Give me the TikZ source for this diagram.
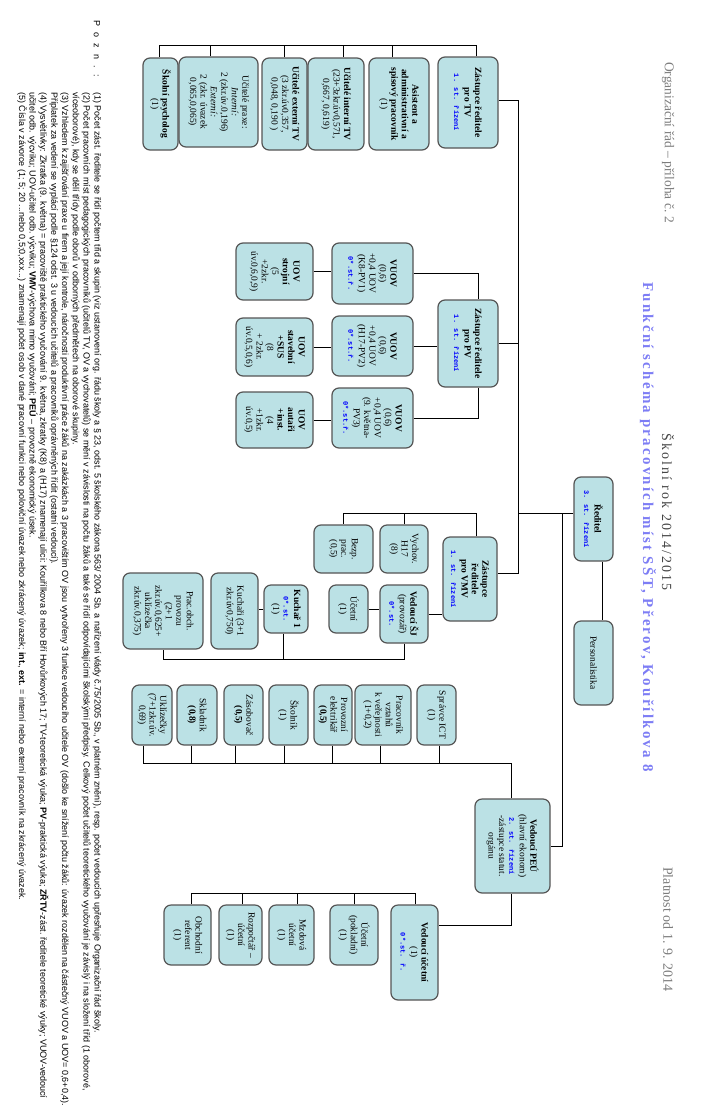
\documentclass[tikz,border=0pt]{standalone}
\usepackage{fontspec}
\setmainfont{Liberation Serif}
\newfontfamily\notefont{Liberation Sans}
\newfontfamily\poznfont[LetterSpace=70]{Liberation Sans}
\newfontfamily\stfont{Liberation Mono}
\newfontfamily\yearfont[LetterSpace=15]{Liberation Serif}
\newfontfamily\bluefont[LetterSpace=15]{Liberation Serif}
\usetikzlibrary{calc}
\definecolor{boxfill}{RGB}{187,225,229}
\definecolor{boxline}{RGB}{85,85,85}
\definecolor{stblue}{RGB}{0,0,255}
\definecolor{titleblue}{RGB}{125,125,245}
\definecolor{titlegray}{RGB}{125,125,125}
\definecolor{yeargray}{RGB}{70,70,70}
\newcommand{\st}[1]{{\stfont\bfseries\fontsize{7}{9}\selectfont\color{stblue}#1}}
\newcommand{\bx}[6]{\node[box, minimum height=#4bp, minimum width=#5bp] (#1) at (#2,#3) {#6};}
\begin{document}
\begin{tikzpicture}[x=1bp,y=-1bp,
  box/.style={draw=boxline, fill=boxfill, line width=1.2bp, rounded corners=7bp, rotate=-90,
    align=center, inner sep=1bp, font=\fontsize{9.5}{10.5}\selectfont},
  conn/.style={line width=1bp, draw=black},
  vtext/.style={rotate=-90, anchor=west, inner sep=0pt},
  note/.style={vtext, font=\notefont\fontsize{9}{10}\selectfont}]
\fill[white] (0,0) rectangle (724,1120);
\useasboundingbox (0,0) rectangle (724,1120);

% titles
\node[vtext, text=titlegray, font=\fontsize{13.5}{15}\selectfont] (t1) at (668,62) {Organizační řád – příloha č. 2};
\node[vtext, text=yeargray, font=\yearfont\fontsize{14}{16}\selectfont] (t2) at (668,433) {Školní rok 2014/2015};
\node[vtext, text=titleblue, font=\bluefont\bfseries\fontsize{15}{17}\selectfont] (t3) at (648,282) {Funkční schéma pracovních míst SŠT, Přerov, Kouřílkova 8};
\node[vtext, text=titlegray, font=\fontsize{14}{16}\selectfont] (t4) at (668,867) {Platnost od 1. 9. 2014};

% notes
\node[vtext, font=\poznfont\fontsize{9}{10}\selectfont] (pozn) at (97,20) {Pozn.:};
\node[note] (n1) at (97,92) {(1) Počet zást. ředitele se řídí počtem tříd a skupin (viz ustanovení org. řádu školy a § 23, odst. 5 školského zákona 563/ 2004 Sb. a nařízení vlády č.75/2005 Sb., v platném znění), resp. počet vedoucích upřesňuje Organizační řád školy.};
\node[note] (n2) at (86.3,92) {(2) Počet pracovních míst pedagogických pracovníků (učitelů TV, OV a vychovatelů) se mění v závislosti na počtu žáků a také se řídí odpovídajícími školskými předpisy. Celkový počet učitelů teoretického vyučování je závislý i na složení tříd (1 oborové,};
\node[note] (n3) at (75.6,92) {víceoborové), kdy se dělí třídy podle oborů v odborných předmětech na oborové skupiny.};
\node[note] (n4) at (64.9,92) {(3) Vzhledem k zajišťování praxe u firem a její kontrole, náročnosti produktivní práce žáků na zakázkách a 3 pracovištím OV jsou vytvořeny 3 funkce vedoucího učitele OV (došlo ke snížení počtu žáků: úvazek rozdělen na částečný VUOV a UOV= 0,6+0,4).};
\node[note] (n5) at (54.1,92) {Příplatek za vedení se vyplácí podle §124 odst. 3 u vedoucích učitelů a pracovníků oprávněných řídit (ostatní vedoucí).};
\node[note] (n6) at (43.4,92) {(4) Vysvětlivky: Zkratka (9. května) = pracoviště praktického vyučování 9. května, zkratky (K8) a (H17) znamenají ulici: Kouřílkova 8 nebo Bří Hovůrkových 17; TV-teoretická výuka; \textbf{PV}-praktická výuka; \textbf{ZŘTV}-zást. ředitele teoretické výuky; VUOV-vedoucí};
\node[note] (n7) at (32.7,92) {učitel odb. výcviku; UOV-učitel odb. výcviku; \textbf{VMV}-výchova mimo vyučování; \textbf{PEÚ} – provozně ekonomický úsek.};
\node[note] (n8) at (22,92) {(5) Čísla v závorce (1; 5; 20 ...nebo 0,5;0,xxx...) znamenají počet osob v dané pracovní funkci nebo poloviční úvazek nebo zkrácený úvazek; \textbf{int.}, \textbf{ext.} = interní nebo externí pracovník na zkrácený úvazek.};

% TV branch
\bx{tv}{468}{102.5}{60}{91}{\textbf{Zástupce ředitele}\\\textbf{pro TV}\\\st{1. st. řízení}}
\bx{asist}{399}{104}{60}{92}{\textbf{Asistent a}\\\textbf{administrativní a}\\\textbf{spisový pracovník}\\(1)}
\bx{int}{336}{104}{56}{92}{\textbf{Učitelé interní TV}\\(23+3zkr.úv0,571,\\0,667, 0,619)}
\bx{ext}{284.5}{104}{45}{92}{\textbf{Učitelé externí TV}\\(3 zkr.úv0,357,\\0,048, 0,190 )}
\bx{praxe}{218.5}{102}{79}{90}{Učitelé praxe:\\\textit{Interní:}\\2 (zkr.úv.0,196)\\\textit{Externí:}\\2 (zkr. úvazek\\0,065,0,065)}
\bx{psych}{160.5}{104}{35}{92}{\textbf{Školní psycholog}\\(1)}

% PV branch
\bx{pv}{468}{343.5}{60}{87}{\textbf{Zástupce ředitele}\\\textbf{pro PV}\\\st{1. st. řízení}}
\bx{vuov1}{372.5}{273.5}{81}{61}{\textbf{VUOV}\\(0,6)\\+0,4 UOV\\(K8-PV1)\\\st{0*.st.ř.}}
\bx{vuov2}{372.5}{346}{81}{60}{\textbf{VUOV}\\(0,6)\\+0,4 UOV\\(H17-PV2)\\\st{0*.st.ř.}}
\bx{vuov3}{372.5}{418}{81}{60}{\textbf{VUOV}\\(0,6)\\+0,4 UOV\\(9. května-\\PV3)\\\st{0*.st.ř.}}
\bx{uov1}{274.5}{271.5}{77}{57}{\textbf{UOV}\\\textbf{strojní}\\(5\\+2zkr.\\úv.0,6,0,9)}
\bx{uov2}{274.5}{347}{77}{58}{\textbf{UOV}\\\textbf{stavební}\\\textbf{+SUS}\\(8\\+ 2zkr.\\úv.0,5,0,6)}
\bx{uov3}{274.5}{420}{77}{56}{\textbf{UOV}\\\textbf{autaři}\\\textbf{+inst.}\\(4\\+1zkr.\\úv.0,5)}

% director
\bx{red}{593.5}{519}{39}{84}{\textbf{Ředitel}\\\st{3. st. řízení}}
\bx{pers}{593.5}{663}{39}{84}{Personalistika}

% VMV branch
\bx{vmv}{470}{579}{54}{84}{\textbf{Zástupce}\\\textbf{ředitele}\\\textbf{pro VMV}\\\st{1. st. řízení}}
\bx{vych}{404}{549}{48}{48}{Vychov.\\H17\\(8)}
\bx{bezp}{343.5}{549}{59}{48}{Bezp.\\prac.\\(0,5)}
\bx{sj}{404}{614}{48}{58}{\textbf{Vedoucí ŠJ}\\(provozář)\\\st{0*.st.}}
\bx{ucsj}{348.5}{609}{39}{48}{Účetní\\(1)}
\bx{kuch1}{286}{609}{44}{48}{\textbf{Kuchař 1}\\\st{0*.st.}\\(1)}
\bx{kuchari}{234.5}{611}{47}{76}{Kuchaři (3+1\\zkr.úv0,750)}
\bx{pobch}{163}{611}{80}{76}{Prac.obch.\\provozu\\(2+1\\zkr.úv.0,625+\\uklízečka\\zkr.úv.0,375)}

% PEU branch
\bx{peu}{512.5}{846}{75}{94}{\textbf{Vedoucí PEÚ}\\(hlavní ekonom)\\\st{2. st. řízení}\\-zástupce statut.\\orgánu}
\bx{ict}{436.5}{715}{39}{60}{Správce ICT\\(1)}
\bx{vztah}{383}{715}{56}{60}{Pracovník\\vztahů\\k veřejnosti\\(1+0,2)}
\bx{elek}{333}{715}{38}{60}{Provozní\\elektrikář\\\textbf{(0,5)}}
\bx{skol}{288.5}{715}{39}{60}{Školník\\(1)}
\bx{zas}{243.5}{715}{39}{60}{Zásobovač\\\textbf{(0,5)}}
\bx{sklad}{197}{715}{40}{60}{Skladník\\\textbf{(0,8)}}
\bx{ukl}{152}{715}{40}{60}{Uklízečky\\(7+1zkr.úv.\\0,69)}
\bx{vu}{414.5}{952.5}{47}{95}{\textbf{Vedoucí účetní}\\(1)\\\st{0*.st. ř.}}
\bx{pokl}{354}{935}{48}{60}{Účetní\\(pokladní)\\(1)}
\bx{mzd}{291.5}{935}{45}{60}{Mzdová\\účetní\\(1)}
\bx{rozp}{240.5}{935}{43}{60}{Rozpočtář –\\účetní\\(1)}
\bx{obr}{187.5}{935}{47}{60}{Obchodní\\referent\\(1)}

% junction coordinates
\coordinate (ttv) at (518,100);
\coordinate (tpv) at (518,343.5);
\coordinate (tred) at (518,513);
\coordinate (tvmv) at (518,573);
\coordinate (tpeu) at (562,513);
\coordinate (pj) at (602,0);
\coordinate (btv) at (476,45);
\coordinate (btvl) at (159,45);
\coordinate (bpv) at (478,0);
\coordinate (bvmv) at (476,513);
\coordinate (bsj) at (0,659);
\coordinate (bkj) at (283,659);
\coordinate (brow) at (511,763);
\coordinate (browl) at (143,763);
\coordinate (bacc) at (511,925);
\coordinate (bab) at (415,893);
\coordinate (babl) at (191,893);

% trunk
\draw[conn] (tv.north |- ttv) -- (ttv) -- (tvmv) -- (vmv.north |- tvmv);
\draw[conn] (pv.north |- tpv) -- (tpv);
\draw[conn] (red.south |- tred) -- (tred);
\draw[conn] (tpeu) -- (tpeu |- peu.north) -- (peu.north);
\draw[conn] (red.east -| pj) -- (pers.west -| pj);

% TV
\draw[conn] (tv.west -| btv) -- (btv) -- (btvl) -- (psych.west -| btvl);
\foreach \n/\x in {praxe/210,ext/284,int/343,asist/392}{
  \coordinate (d) at (\x,45);
  \draw[conn] (\n.west -| d) -- (d);}

% PV
\draw[conn] (vuov1.north) -- (vuov1.north -| bpv) -- (pv.west -| bpv);
\draw[conn] (vuov3.north) -- (vuov3.north -| bpv) -- (pv.east -| bpv);
\draw[conn] (vuov2.north) -- (vuov2.north -| pv.south);
\draw[conn] (uov1.north) -- (uov1.north -| vuov1.south);
\draw[conn] (uov2.north) -- (uov2.north -| vuov2.south);
\draw[conn] (uov3.north) -- (uov3.north -| vuov3.south);

% VMV
\draw[conn] (vmv.west -| bvmv) -- (bvmv) -| (bezp.west);
\draw[conn] (vych.west) -- (vych.west |- bvmv);
\draw[conn] (sj.north) -- (sj.north -| vmv.south);
\draw[conn] (ucsj.north) -- (ucsj.north -| sj.south);
\draw[conn] (kuch1.south) -- (kuch1.south -| kuchari.north);
\draw[conn] (sj.east) -- (sj.east |- bsj) -| (pobch.east);
\draw[conn] (kuch1.east -| bkj) -- (bkj);

% PEU row
\draw[conn] (peu.west -| brow) -- (brow) -- (browl) -- (ukl.east -| browl);
\foreach \n/\x in {ict/439,vztah/380,elek/332,skol/284,zas/235,sklad/191}{
  \coordinate (d) at (\x,763);
  \draw[conn] (\n.east -| d) -- (d);}

% accounting
\draw[conn] (peu.east -| bacc) -- (bacc) -- (bacc -| vu.north);
\draw[conn] (vu.west -| bab) -- (bab) -- (babl) -- (obr.west -| babl);
\foreach \n/\x in {pokl/354,mzd/297,rozp/242}{
  \coordinate (d) at (\x,893);
  \draw[conn] (\n.west -| d) -- (d);}
\end{tikzpicture}
\end{document}
